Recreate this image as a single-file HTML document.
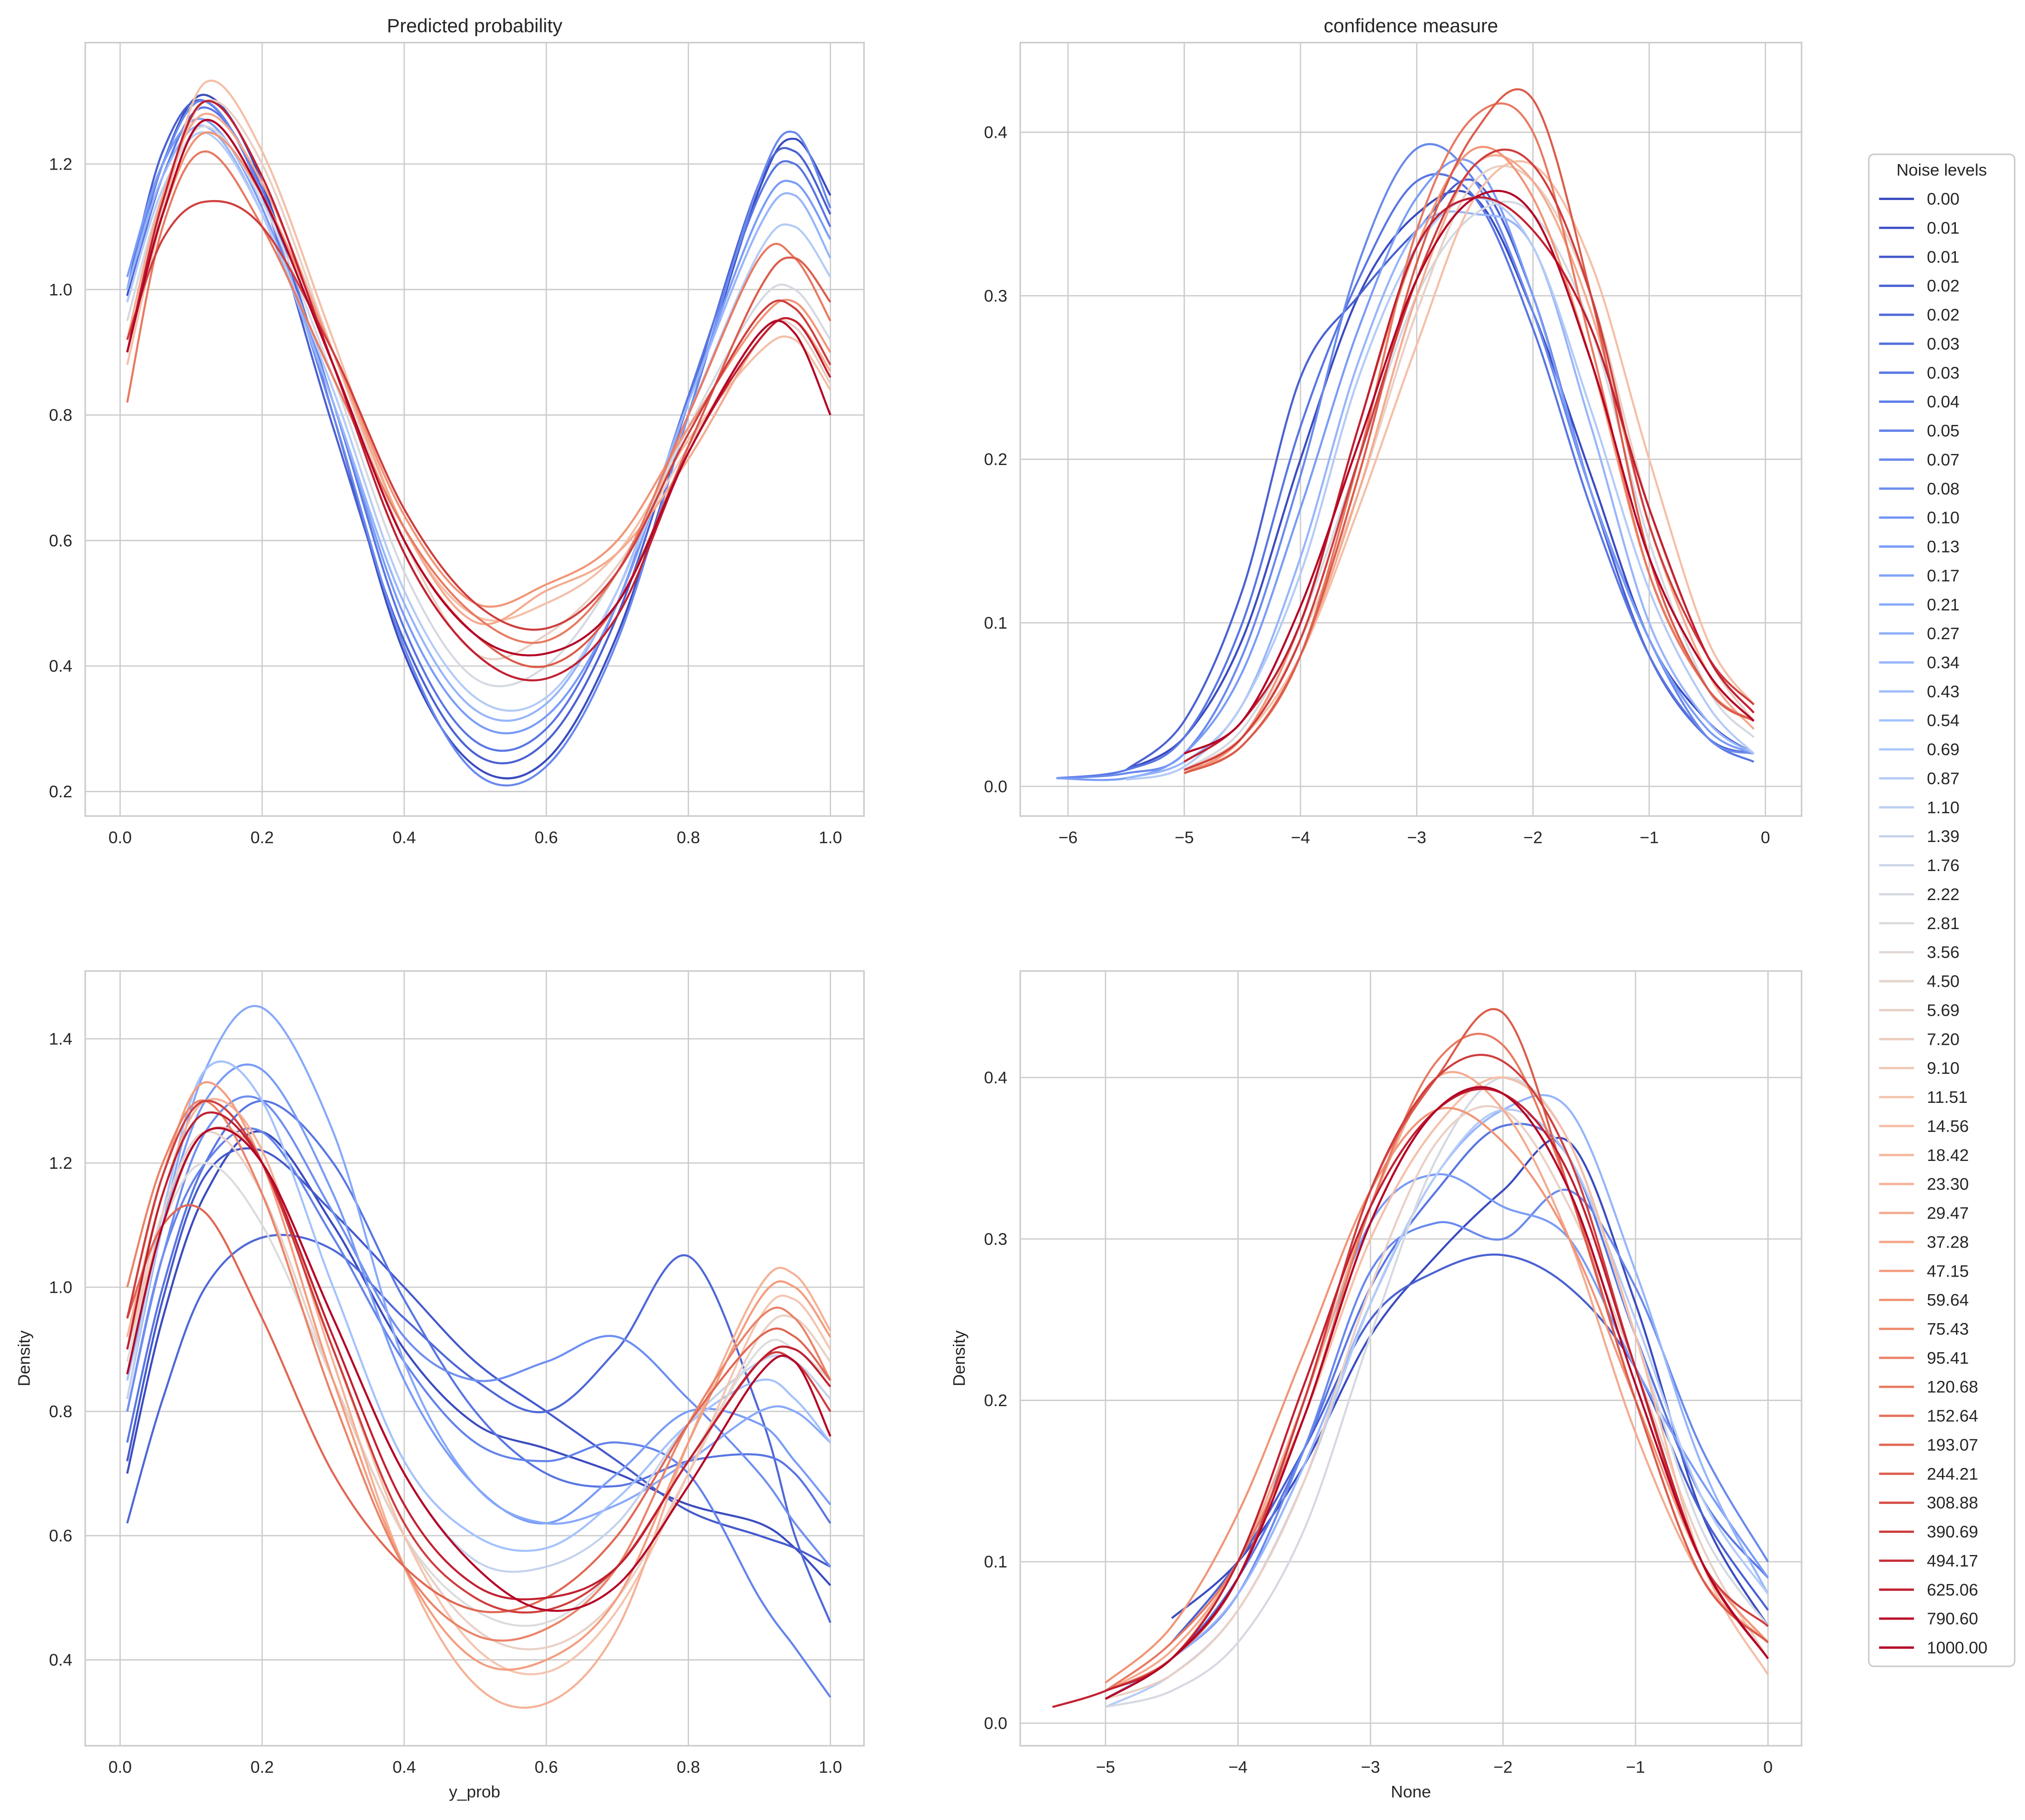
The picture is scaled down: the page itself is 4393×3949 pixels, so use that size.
<!DOCTYPE html>
<html><head><meta charset="utf-8">
<style>
html,body{margin:0;padding:0;background:#fff;}
svg{display:block;font-family:"Liberation Sans","DejaVu Sans",sans-serif;}
</style></head>
<body>
<svg id="chart" xmlns="http://www.w3.org/2000/svg" width="4393" height="3949" viewBox="0 0 1568 1409.5">
<rect width="1568" height="1410" fill="#fff"/>
</svg>
<script>
// ---- data ----
const noiseLevels = ["0.00","0.01","0.01","0.02","0.02","0.03","0.03","0.04","0.05","0.07","0.08","0.10","0.13","0.17","0.21","0.27","0.34","0.43","0.54","0.69","0.87","1.10","1.39","1.76","2.22","2.81","3.56","4.50","5.69","7.20","9.10","11.51","14.56","18.42","23.30","29.47","37.28","47.15","59.64","75.43","95.41","120.68","152.64","193.07","244.21","308.88","390.69","494.17","625.06","790.60","1000.00"];

const tlX = [0.01,0.06,0.12,0.2,0.3,0.4,0.5,0.6,0.7,0.8,0.9,0.95,1.0];
const tlIdx = [0,3,6,9,12,16,20,24,28,32,35,38,41,44,46,48,50];
const tlVals = [
[0.99,1.2,1.31,1.17,0.8,0.42,0.24,0.25,0.45,0.8,1.16,1.24,1.15],
[1.0,1.22,1.3,1.15,0.78,0.44,0.26,0.28,0.48,0.82,1.17,1.22,1.12],
[0.98,1.18,1.29,1.16,0.82,0.46,0.28,0.3,0.5,0.83,1.15,1.2,1.1],
[1.0,1.2,1.3,1.15,0.8,0.43,0.23,0.24,0.44,0.8,1.17,1.25,1.13],
[1.02,1.2,1.27,1.13,0.82,0.48,0.31,0.32,0.5,0.82,1.12,1.17,1.08],
[1.0,1.18,1.26,1.12,0.82,0.5,0.33,0.34,0.52,0.82,1.1,1.15,1.05],
[0.98,1.16,1.25,1.12,0.84,0.52,0.35,0.35,0.52,0.8,1.06,1.1,1.02],
[0.95,1.15,1.26,1.14,0.86,0.55,0.38,0.4,0.55,0.78,0.98,1.0,0.92],
[0.9,1.13,1.3,1.2,0.9,0.6,0.42,0.45,0.56,0.75,0.93,0.94,0.85],
[0.88,1.12,1.33,1.22,0.92,0.62,0.48,0.5,0.58,0.76,0.9,0.92,0.84],
[0.92,1.15,1.28,1.17,0.9,0.62,0.47,0.52,0.58,0.73,0.92,0.95,0.87],
[0.9,1.12,1.25,1.15,0.9,0.64,0.5,0.53,0.6,0.78,0.95,0.98,0.9],
[0.82,1.1,1.22,1.1,0.86,0.62,0.48,0.44,0.55,0.8,1.05,1.05,0.95],
[0.9,1.12,1.27,1.15,0.88,0.6,0.45,0.4,0.5,0.75,1.0,1.05,0.98],
[0.92,1.08,1.14,1.1,0.9,0.65,0.5,0.46,0.55,0.77,0.96,0.97,0.88],
[0.9,1.14,1.3,1.18,0.88,0.58,0.42,0.38,0.48,0.74,0.92,0.95,0.86],
[0.9,1.12,1.27,1.15,0.88,0.6,0.45,0.42,0.5,0.74,0.93,0.93,0.8]];

const trX = [-6.1,-5.5,-5,-4.5,-4,-3.5,-3,-2.5,-2,-1.5,-1,-0.5,-0.1];
const trIdx = [0,3,6,9,12,16,20,24,28,32,35,38,41,44,46,48,50];
const trVals = [
[null,0.01,0.03,0.09,0.2,0.3,0.35,0.36,0.29,0.19,0.09,0.04,0.02],
[null,0.01,0.04,0.12,0.25,0.3,0.34,0.37,0.3,0.18,0.08,0.03,0.02],
[0.005,0.01,0.03,0.1,0.22,0.31,0.37,0.36,0.28,0.17,0.08,0.03,0.015],
[0.005,0.008,0.02,0.08,0.19,0.32,0.39,0.37,0.29,0.18,0.09,0.03,0.02],
[0.005,0.005,0.02,0.07,0.17,0.28,0.36,0.38,0.3,0.18,0.09,0.035,0.02],
[null,0.005,0.015,0.05,0.14,0.26,0.34,0.35,0.33,0.22,0.1,0.04,0.02],
[null,0.004,0.012,0.05,0.13,0.25,0.33,0.36,0.33,0.23,0.12,0.05,0.02],
[null,null,0.01,0.035,0.1,0.2,0.3,0.35,0.35,0.28,0.15,0.06,0.03],
[null,null,0.01,0.03,0.09,0.18,0.29,0.37,0.37,0.3,0.17,0.08,0.04],
[null,null,0.01,0.03,0.08,0.17,0.27,0.36,0.38,0.32,0.2,0.09,0.05],
[null,null,0.01,0.025,0.08,0.18,0.3,0.38,0.37,0.29,0.16,0.07,0.035],
[null,null,0.008,0.03,0.1,0.22,0.33,0.39,0.36,0.26,0.13,0.06,0.04],
[null,null,0.008,0.025,0.08,0.2,0.34,0.41,0.4,0.27,0.13,0.06,0.04],
[null,null,0.008,0.025,0.08,0.19,0.32,0.4,0.42,0.3,0.14,0.06,0.04],
[null,null,0.01,0.03,0.09,0.2,0.31,0.38,0.38,0.3,0.16,0.08,0.05],
[null,null,0.015,0.04,0.1,0.22,0.33,0.36,0.34,0.28,0.17,0.08,0.045],
[null,null,0.02,0.04,0.11,0.21,0.31,0.36,0.35,0.26,0.14,0.07,0.04]];

const blX = [0.01,0.06,0.12,0.2,0.3,0.4,0.5,0.6,0.7,0.8,0.9,0.95,1.0];
const blIdx = [0,2,4,6,8,10,12,14,18,22,25,28,31,34,37,40,43,46,48,50];
const blVals = [
[0.7,0.95,1.15,1.25,1.1,0.9,0.78,0.74,0.7,0.65,0.62,0.58,0.52],
[0.72,0.98,1.18,1.22,1.12,1.0,0.88,0.8,0.72,0.64,0.6,0.58,0.55],
[0.62,0.82,1.0,1.08,1.06,0.95,0.85,0.8,0.9,1.05,0.8,0.6,0.46],
[0.75,1.0,1.2,1.3,1.2,0.98,0.8,0.7,0.68,0.72,0.73,0.7,0.62],
[0.8,1.05,1.2,1.25,1.08,0.88,0.75,0.72,0.75,0.7,0.5,0.42,0.34],
[0.8,1.05,1.25,1.3,1.12,0.92,0.85,0.88,0.92,0.82,0.7,0.62,0.55],
[0.85,1.1,1.3,1.35,1.15,0.85,0.68,0.62,0.7,0.8,0.78,0.72,0.65],
[0.82,1.1,1.35,1.45,1.25,0.88,0.68,0.62,0.65,0.72,0.8,0.8,0.75],
[0.85,1.12,1.35,1.3,1.0,0.72,0.6,0.58,0.66,0.78,0.85,0.82,0.75],
[0.82,1.1,1.25,1.2,0.95,0.7,0.56,0.55,0.62,0.78,0.88,0.88,0.82],
[0.88,1.1,1.2,1.1,0.85,0.6,0.48,0.46,0.55,0.72,0.9,0.9,0.85],
[0.9,1.12,1.25,1.15,0.85,0.6,0.45,0.42,0.5,0.7,0.92,0.95,0.88],
[0.9,1.1,1.25,1.2,0.9,0.6,0.42,0.38,0.48,0.7,0.95,0.98,0.9],
[0.92,1.15,1.3,1.22,0.88,0.55,0.36,0.33,0.45,0.75,1.0,1.02,0.93],
[0.95,1.18,1.33,1.2,0.85,0.55,0.4,0.4,0.5,0.75,0.98,1.0,0.92],
[1.0,1.2,1.3,1.15,0.82,0.55,0.44,0.45,0.55,0.78,0.95,0.95,0.85],
[0.95,1.1,1.12,0.95,0.7,0.55,0.48,0.5,0.6,0.78,0.92,0.92,0.85],
[0.95,1.18,1.3,1.2,0.9,0.62,0.5,0.48,0.55,0.72,0.88,0.88,0.8],
[0.9,1.15,1.28,1.2,0.92,0.65,0.52,0.5,0.55,0.72,0.88,0.9,0.84],
[0.86,1.1,1.25,1.2,0.95,0.7,0.55,0.48,0.52,0.68,0.86,0.88,0.76]];

const brX = [-5.4,-5,-4.5,-4,-3.5,-3,-2.5,-2,-1.5,-1,-0.5,0];
const brIdx = [0,3,6,9,12,16,20,24,28,32,35,38,41,44,46,48,50];
const brVals = [
[null,null,0.065,0.1,0.16,0.24,0.29,0.33,0.36,0.26,0.13,0.06],
[null,null,0.05,0.1,0.17,0.25,0.28,0.29,0.27,0.22,0.13,0.07],
[null,0.015,0.04,0.09,0.17,0.27,0.33,0.37,0.35,0.24,0.14,0.09],
[null,0.015,0.04,0.08,0.17,0.28,0.31,0.3,0.33,0.27,0.17,0.1],
[null,0.015,0.04,0.09,0.2,0.31,0.34,0.32,0.3,0.22,0.15,0.09],
[null,0.015,0.04,0.08,0.16,0.26,0.34,0.38,0.38,0.28,0.16,0.08],
[null,0.01,0.03,0.07,0.15,0.26,0.34,0.38,0.35,0.25,0.14,0.08],
[null,0.01,0.02,0.05,0.12,0.24,0.35,0.4,0.36,0.24,0.12,0.06],
[null,0.015,0.03,0.07,0.15,0.27,0.36,0.38,0.32,0.22,0.11,0.04],
[null,0.02,0.04,0.1,0.19,0.3,0.37,0.4,0.36,0.24,0.1,0.03],
[null,0.02,0.045,0.1,0.2,0.32,0.4,0.38,0.3,0.18,0.09,0.05],
[null,0.025,0.06,0.13,0.23,0.33,0.38,0.36,0.3,0.2,0.1,0.05],
[null,0.02,0.05,0.1,0.19,0.32,0.41,0.42,0.33,0.2,0.09,0.05],
[null,0.02,0.04,0.09,0.2,0.33,0.4,0.44,0.33,0.2,0.09,0.05],
[null,0.015,0.04,0.09,0.2,0.33,0.4,0.41,0.35,0.22,0.1,0.06],
[0.01,0.02,0.04,0.1,0.21,0.32,0.38,0.39,0.34,0.22,0.1,0.04],
[null,0.015,0.04,0.09,0.19,0.31,0.38,0.39,0.33,0.21,0.1,0.04]];

const tlXTicks = ["0.0","0.2","0.4","0.6","0.8","1.0"];
const tlYTicks = ["0.2","0.4","0.6","0.8","1.0","1.2"];
const trXTicks = ["−6","−5","−4","−3","−2","−1","0"];
const trYTicks = ["0.0","0.1","0.2","0.3","0.4"];
const blYTicks = ["0.4","0.6","0.8","1.0","1.2","1.4"];
const brXTicks = ["−5","−4","−3","−2","−1","0"];
const brYTicks = ["0.0","0.1","0.2","0.3","0.4"];

// ---- rendering ----
const NS = "http://www.w3.org/2000/svg";
const svg = document.getElementById("chart");
function mk(tag, attrs, parent){const e=document.createElementNS(NS,tag);for(const k in attrs)e.setAttribute(k,attrs[k]);(parent||svg).appendChild(e);return e;}
const cmapStops=[[0,[59,76,192]],[0.125,[90,120,228]],[0.25,[124,159,249]],[0.375,[170,199,253]],[0.5,[221,220,220]],[0.625,[245,196,173]],[0.75,[244,154,123]],[0.875,[222,96,77]],[1,[180,4,38]]];
function coolwarm(t){for(let i=1;i<cmapStops.length;i++){if(t<=cmapStops[i][0]){const a=cmapStops[i-1],b=cmapStops[i];const f=(t-a[0])/(b[0]-a[0]);const c=a[1].map((v,j)=>Math.round(v+(b[1][j]-v)*f));return `rgb(${c.join(",")})`;}}return "rgb(180,4,38)";}
function num(s){return parseFloat(s.replace("−","-"));}
function lin(d0,d1,r0,r1){return v=>r0+(v-d0)*(r1-r0)/(d1-d0);}
function smoothPath(pts){
  if(pts.length<2)return "";
  let d=`M${pts[0][0].toFixed(2)},${pts[0][1].toFixed(2)}`;
  for(let i=0;i<pts.length-1;i++){
    const p0=pts[i-1]||pts[i],p1=pts[i],p2=pts[i+1],p3=pts[i+2]||p2;
    const c1=[p1[0]+(p2[0]-p0[0])/6,p1[1]+(p2[1]-p0[1])/6];
    const c2=[p2[0]-(p3[0]-p1[0])/6,p2[1]-(p3[1]-p1[1])/6];
    d+=` C${c1[0].toFixed(2)},${c1[1].toFixed(2)} ${c2[0].toFixed(2)},${c2[1].toFixed(2)} ${p2[0].toFixed(2)},${p2[1].toFixed(2)}`;
  }
  return d;
}
function panel(name,box,xs,ys,xTicks,yTicks,xData,idx,vals,title,xlabel,ylabel){
  const g=mk("g",{});
  
  
  const gg=mk("g",{},g);
  
  
  xTicks.forEach(t=>{const x=xs(num(t));
    mk("line",{x1:x,x2:x,y1:box.y0,y2:box.y1,stroke:"#cccccc","stroke-width":1},gg);
    const tx=mk("text",{x:x,y:box.y1+21,"text-anchor":"middle","font-size":13,fill:"#262626"},g);tx.textContent=t;
    
    
  });
  yTicks.forEach(t=>{const y=ys(num(t));
    mk("line",{x1:box.x0,x2:box.x1,y1:y,y2:y,stroke:"#cccccc","stroke-width":1},gg);
    const tx=mk("text",{x:box.x0-10,y:y+4.5,"text-anchor":"end","font-size":13,fill:"#262626"},g);tx.textContent=t;
    
    
  });
  const sg=mk("g",{},g);
  
  
  idx.forEach((li,k)=>{
    const pts=[];vals[k].forEach((v,j)=>{if(v!==null)pts.push([xs(xData[j]),ys(v)]);});
    const p=mk("path",{d:smoothPath(pts),fill:"none",stroke:coolwarm(li/50),"stroke-width":1.6},sg);
    
    
  });
  const fr=mk("rect",{x:box.x0,y:box.y0,width:box.x1-box.x0,height:box.y1-box.y0,fill:"none",stroke:"#cccccc","stroke-width":1.2},g);
  
  
  if(title){const t=mk("text",{x:(box.x0+box.x1)/2,y:box.y0-8,"text-anchor":"middle","font-size":15,fill:"#262626"},g);t.textContent=title;
    
    }
  if(xlabel){const t=mk("text",{x:(box.x0+box.x1)/2,y:box.y1+40,"text-anchor":"middle","font-size":13,fill:"#262626"},g);t.textContent=xlabel;
    
    }
  if(ylabel){const cx=box.x0-43,cy=(box.y0+box.y1)/2;const t=mk("text",{x:cx,y:cy,"text-anchor":"middle","font-size":13,fill:"#262626",transform:`rotate(-90 ${cx} ${cy})`},g);t.textContent=ylabel;
    
    }
}
const tlBox={x0:66,x1:669,y0:33,y1:632};
panel("panel-predicted-probability",tlBox,lin(0,1,93,643),lin(0.2,1.2,613,127),tlXTicks,tlYTicks,tlX,tlIdx,tlVals,"Predicted probability","","");
const trBox={x0:790,x1:1395,y0:33,y1:632};
panel("panel-confidence-measure",trBox,lin(-6,0,827,1367),lin(0,0.4,609,102.4),trXTicks,trYTicks,trX,trIdx,trVals,"confidence measure","","");
const blBox={x0:66,x1:669,y0:752,y1:1352};
panel("panel-yprob-density",blBox,lin(0,1,93,643),lin(0.4,1.4,1285.5,804.5),tlXTicks,blYTicks,blX,blIdx,blVals,"","y_prob","Density");
const brBox={x0:790,x1:1395,y0:752,y1:1352};
panel("panel-none-density",brBox,lin(-5,0,856,1369),lin(0,0.4,1334.5,834.5),brXTicks,brYTicks,brX,brIdx,brVals,"","None","Density");

// legend
const lg=mk("g",{});


mk("rect",{x:1447,y:119.5,width:113,height:1171,rx:4,fill:"#fff",stroke:"#cccccc","stroke-width":1.2},lg);
const lt=mk("text",{x:1503.5,y:136,"text-anchor":"middle","font-size":13,fill:"#262626"},lg);lt.textContent="Noise levels";


noiseLevels.forEach((lv,i)=>{
  const y=154+i*22.44;
  const eg=mk("g",{},lg);
  
  
  mk("line",{x1:1455,x2:1482,y1:y,y2:y,stroke:coolwarm(i/50),"stroke-width":1.8},eg);
  const t=mk("text",{x:1492,y:y+4.5,"font-size":13,fill:"#262626"},eg);t.textContent=lv;
});
</script>
</body></html>
